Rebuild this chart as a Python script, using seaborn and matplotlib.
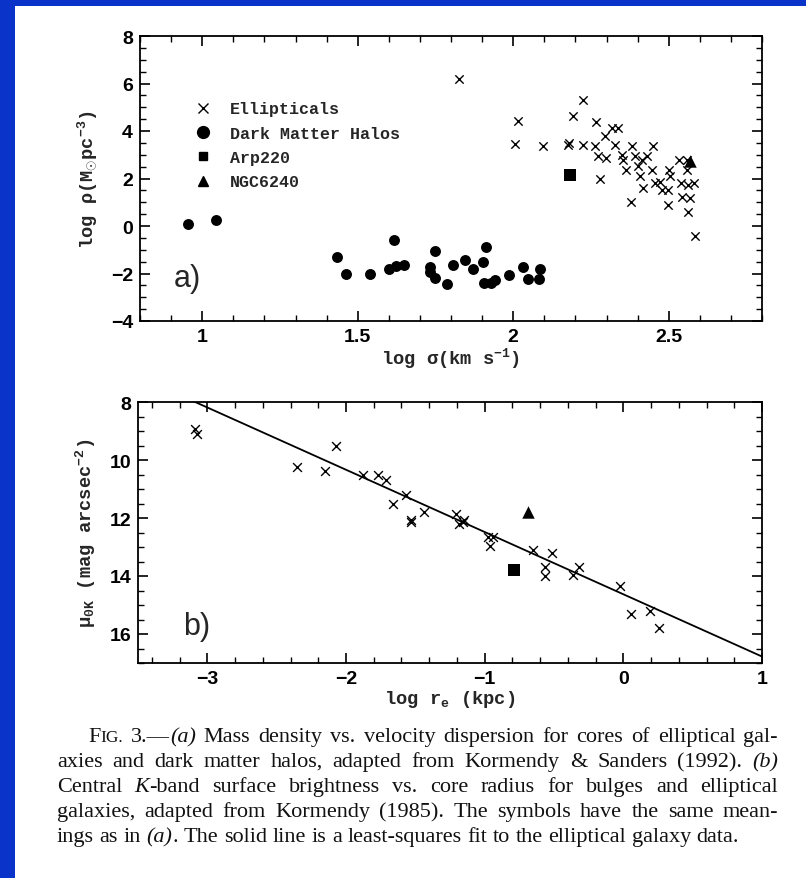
import matplotlib
matplotlib.use("Agg")
import matplotlib.pyplot as plt
from matplotlib.lines import Line2D
from matplotlib.patches import Rectangle
from matplotlib.ticker import MultipleLocator, FuncFormatter
import numpy as np
import pandas as pd
import seaborn as sns

# ---------------- data: panel (a) ----------------
ell_sigma = [1.825, 2.014, 2.005, 2.097, 2.175, 2.180, 2.193, 2.225, 2.225, 2.265,
             2.279, 2.263, 2.274, 2.295, 2.300, 2.317, 2.338, 2.327, 2.349, 2.362,
             2.381, 2.379, 2.392, 2.402, 2.408, 2.418, 2.429, 2.448, 2.446, 2.456,
             2.472, 2.478, 2.501, 2.504, 2.497, 2.499, 2.533, 2.540, 2.542, 2.558,
             2.563, 2.569, 2.563, 2.580, 2.583, 2.413, 2.352, 2.560]
ell_rho = [6.17, 4.41, 3.47, 3.35, 3.42, 3.48, 4.65, 5.30, 3.42, 4.37,
           1.97, 3.35, 2.93, 3.81, 2.86, 4.13, 4.13, 3.42, 3.00, 2.37,
           3.35, 1.03, 2.93, 2.51, 2.09, 1.59, 2.93, 3.35, 2.37, 1.80,
           1.87, 1.52, 2.37, 2.09, 0.89, 1.52, 2.76, 1.80, 1.24, 2.37,
           1.73, 1.17, 0.61, 1.80, -0.42, 2.79, 2.80, 2.78]

dm_sigma = [0.953, 1.045, 1.434, 1.463, 1.539, 1.600, 1.616, 1.622, 1.650, 1.732,
            1.747, 1.734, 1.750, 1.788, 1.807, 1.844, 1.871, 1.904, 1.911, 1.906,
            1.943, 1.930, 1.986, 2.032, 2.047, 2.086, 2.084]
dm_rho = [0.08, 0.25, -1.30, -2.00, -2.00, -1.79, -0.59, -1.70, -1.65, -1.72,
          -1.04, -1.95, -2.21, -2.45, -1.65, -1.44, -1.83, -1.51, -0.87, -2.42,
          -2.28, -2.38, -2.07, -1.72, -2.25, -1.83, -2.25]

arp_sigma, arp_rho = [2.182], [2.13]
ngc_sigma, ngc_rho = [2.569], [2.72]

# ---------------- data: panel (b) ----------------
b_ell_r = [-3.089, -3.072, -2.354, -2.153, -2.069, -1.876, -1.770, -1.714, -1.659, -1.570,
           -1.534, -1.530, -1.437, -1.208, -1.184, -1.157, -1.150, -0.976, -0.940, -0.964,
           -0.650, -0.518, -0.566, -0.566, -0.361, -0.317, -0.023, 0.056, 0.194, 0.254]
b_ell_mu = [8.93, 9.09, 10.25, 10.37, 9.51, 10.52, 10.52, 10.69, 11.50, 11.19,
            12.14, 12.08, 11.81, 11.87, 12.20, 12.14, 12.08, 12.66, 12.66, 12.95,
            13.10, 13.22, 13.70, 13.99, 13.96, 13.68, 14.34, 15.30, 15.21, 15.81]
b_arp_r, b_arp_mu = [-0.788], [13.79]
b_ngc_r, b_ngc_mu = [-0.691], [11.79]

# least-squares fit line as drawn in the figure
fit_slope = 2.147
fit_intercept = 14.63
fit_r = [-3.5, 1.0]

legend_labels = ["Ellipticals", "Dark Matter Halos", "Arp220", "NGC6240"]

caption_lines = [
    "FIG. 3.\u2014*(a)* Mass density vs. velocity dispersion for cores of elliptical gal-",
    "axies and dark matter halos, adapted from Kormendy & Sanders (1992). *(b)*",
    "Central *K*-band surface brightness vs. core radius for bulges and elliptical",
    "galaxies, adapted from Kormendy (1985). The symbols have the same mean-",
    "ings as in *(a)*. The solid line is a least-squares fit to the elliptical galaxy data.",
]

# ---------------- style ----------------
sns.set_style("ticks")
plt.rcParams["font.family"] = ["Liberation Sans", "DejaVu Sans"]
plt.rcParams["font.weight"] = "bold"
plt.rcParams["mathtext.fontset"] = "custom"
plt.rcParams["mathtext.rm"] = "Liberation Mono:bold"
plt.rcParams["mathtext.it"] = "Liberation Mono:bold:italic"
plt.rcParams["mathtext.bf"] = "Liberation Mono:bold"
plt.rcParams["mathtext.default"] = "rm"

W, H = 806, 879
fig = plt.figure(figsize=(W / 100, H / 100), dpi=100)
fig.patch.set_facecolor("#0a33c9")
fig.patches.append(Rectangle((15 / W, 0), 1, 1 - 7 / H, transform=fig.transFigure,
                             facecolor="white", edgecolor="none", zorder=-10))

def fx(px):
    return px / W

def fy(py):
    return 1 - py / H

ax1 = fig.add_axes([fx(140), fy(322), (762 - 140) / W, (322 - 37) / H])
ax2 = fig.add_axes([fx(138), fy(664), (762 - 138) / W, (664 - 403) / H])

label_font = dict(family="Liberation Mono", weight="bold", size=13.5)
gfmt = FuncFormatter(lambda v, pos: ("%g" % v).replace("-", "\u2212"))

def style_axes(ax, xmaj, xmin, ymaj, ymin):
    ax.set_facecolor("none")
    for s in ax.spines.values():
        s.set_visible(True)
        s.set_linewidth(1.3)
        s.set_color("black")
    ax.xaxis.set_major_locator(MultipleLocator(xmaj))
    ax.xaxis.set_minor_locator(MultipleLocator(xmin))
    ax.yaxis.set_major_locator(MultipleLocator(ymaj))
    ax.yaxis.set_minor_locator(MultipleLocator(ymin))
    ax.xaxis.set_major_formatter(gfmt)
    ax.yaxis.set_major_formatter(gfmt)
    ax.tick_params(which="both", direction="in", top=True, right=True, colors="black")
    ax.tick_params(which="major", length=7, width=1.2, labelsize=14, pad=5)
    ax.tick_params(which="minor", length=4, width=1.0)
    for lab in ax.get_xticklabels() + ax.get_yticklabels():
        lab.set_fontweight("bold")

# ---------------- panel (a) ----------------
sns.scatterplot(x=ell_sigma, y=ell_rho, marker="x", s=36, color="black",
                linewidth=1.0, ax=ax1, zorder=3)
sns.scatterplot(x=dm_sigma, y=dm_rho, marker="o", s=62, color="black",
                edgecolor="black", linewidth=0, ax=ax1, zorder=3)
sns.scatterplot(x=arp_sigma, y=arp_rho, marker="s", s=64, color="black",
                edgecolor="black", linewidth=0, ax=ax1, zorder=4)
sns.scatterplot(x=ngc_sigma, y=ngc_rho, marker="^", s=80, color="black",
                edgecolor="black", linewidth=0, ax=ax1, zorder=4)
ax1.set_xlim(0.8, 2.8)
ax1.set_ylim(-4, 8)
style_axes(ax1, 0.5, 0.1, 2, 0.5)
ax1.set_xlabel(r"log $\sigma$(km s$^{-1}$)", fontdict=label_font, labelpad=0)
ax1.set_ylabel(r"log $\rho$(M$_{\odot}$pc$^{-3}$)", fontdict=label_font, labelpad=8)
ax1.text(0.952, -2.2, "a)", fontsize=22, fontweight="normal", family="Liberation Sans",
         ha="center", va="center")

handles = [
    Line2D([], [], marker="x", linestyle="none", color="black", markersize=6.5, mew=1.0),
    Line2D([], [], marker="o", linestyle="none", color="black", markersize=8.5),
    Line2D([], [], marker="s", linestyle="none", color="black", markersize=5.5),
    Line2D([], [], marker="^", linestyle="none", color="black", markersize=6.5),
]
ax1.legend(handles, legend_labels, loc="upper left", bbox_to_anchor=(0.075, 0.80),
           frameon=False, borderpad=0, handlelength=1.0, handletextpad=1.1,
           labelspacing=0.56, prop=dict(family="Liberation Mono", weight="bold", size=12))

# ---------------- panel (b) ----------------
fit_df = pd.DataFrame({"r": fit_r, "mu": [fit_intercept + fit_slope * v for v in fit_r]})
sns.lineplot(data=fit_df, x="r", y="mu", color="black", linewidth=1.3, ax=ax2, zorder=2)
sns.scatterplot(x=b_ell_r, y=b_ell_mu, marker="x", s=40, color="black",
                linewidth=1.0, ax=ax2, zorder=3)
sns.scatterplot(x=b_arp_r, y=b_arp_mu, marker="s", s=64, color="black",
                edgecolor="black", linewidth=0, ax=ax2, zorder=4)
sns.scatterplot(x=b_ngc_r, y=b_ngc_mu, marker="^", s=80, color="black",
                edgecolor="black", linewidth=0, ax=ax2, zorder=4)
ax2.set_xlim(-3.5, 1.0)
ax2.set_ylim(17, 8)
style_axes(ax2, 1, 0.2, 2, 0.5)
ax2.set_xlabel(r"log r$_{\mathrm{e}}$ (kpc)", fontdict=label_font, labelpad=1)
ax2.set_ylabel(r"$\mu_{0K}$ (mag arcsec$^{-2}$)", fontdict=label_font, labelpad=8)
ax2.text(-3.08, 15.73, "b)", fontsize=22, fontweight="normal", family="Liberation Sans",
         ha="center", va="center")

# ---------------- caption (justified) ----------------
renderer = fig.canvas.get_renderer()
cap_size = 16.0
cap_family = "Liberation Serif"
x_first, x_left, x_right = 88, 57, 778
y_lines = [742, 767, 792, 817, 842]

def parse_word(word):
    segs = []
    italic = False
    buf = ""
    for ch in word:
        if ch == "*":
            if buf:
                segs.append((buf, italic))
            buf = ""
            italic = not italic
        else:
            buf += ch
    if buf:
        segs.append((buf, italic))
    return segs

def make_pieces(word, size):
    pieces = []
    if word.startswith("FIG."):
        pieces.append(("F", False, size))
        pieces.append(("IG.", False, size * 0.78))
        rest = word[4:]
        for t, it in parse_word(rest):
            pieces.append((t, it, size))
    else:
        for t, it in parse_word(word):
            pieces.append((t, it, size))
    return pieces

def measure(t, it, size):
    tx = fig.text(0, 0, t, fontsize=size, family=cap_family, weight="normal",
                  style="italic" if it else "normal")
    w = tx.get_window_extent(renderer).width
    tx.remove()
    return w

space_w = measure("a a", False, cap_size) - measure("aa", False, cap_size)
scale = 1.0
for i, line in enumerate(caption_lines[:-1]):
    start = x_first if i == 0 else x_left
    words = line.split(" ")
    tot = sum(measure(t, it, s) for w in words for (t, it, s) in make_pieces(w, cap_size))
    need = tot + 0.6 * space_w * (len(words) - 1)
    if need > (x_right - start):
        scale = min(scale, (x_right - start) / need)
size = cap_size * scale
space_w *= scale

for i, line in enumerate(caption_lines):
    start = x_first if i == 0 else x_left
    words = line.split(" ")
    wp = [make_pieces(w, size) for w in words]
    widths = [[measure(t, it, s) for (t, it, s) in p] for p in wp]
    total = sum(sum(w) for w in widths)
    if i < len(caption_lines) - 1:
        gap = (x_right - start - total) / (len(words) - 1)
    else:
        gap = space_w
    x = start
    for p, wl in zip(wp, widths):
        for (t, it, s), w in zip(p, wl):
            fig.text(fx(x), fy(y_lines[i]), t, fontsize=s, family=cap_family,
                     weight="normal", style="italic" if it else "normal",
                     ha="left", va="baseline", color="#111111")
            x += w
        x += gap

fig.savefig("out.png", dpi=100, facecolor=fig.get_facecolor())
